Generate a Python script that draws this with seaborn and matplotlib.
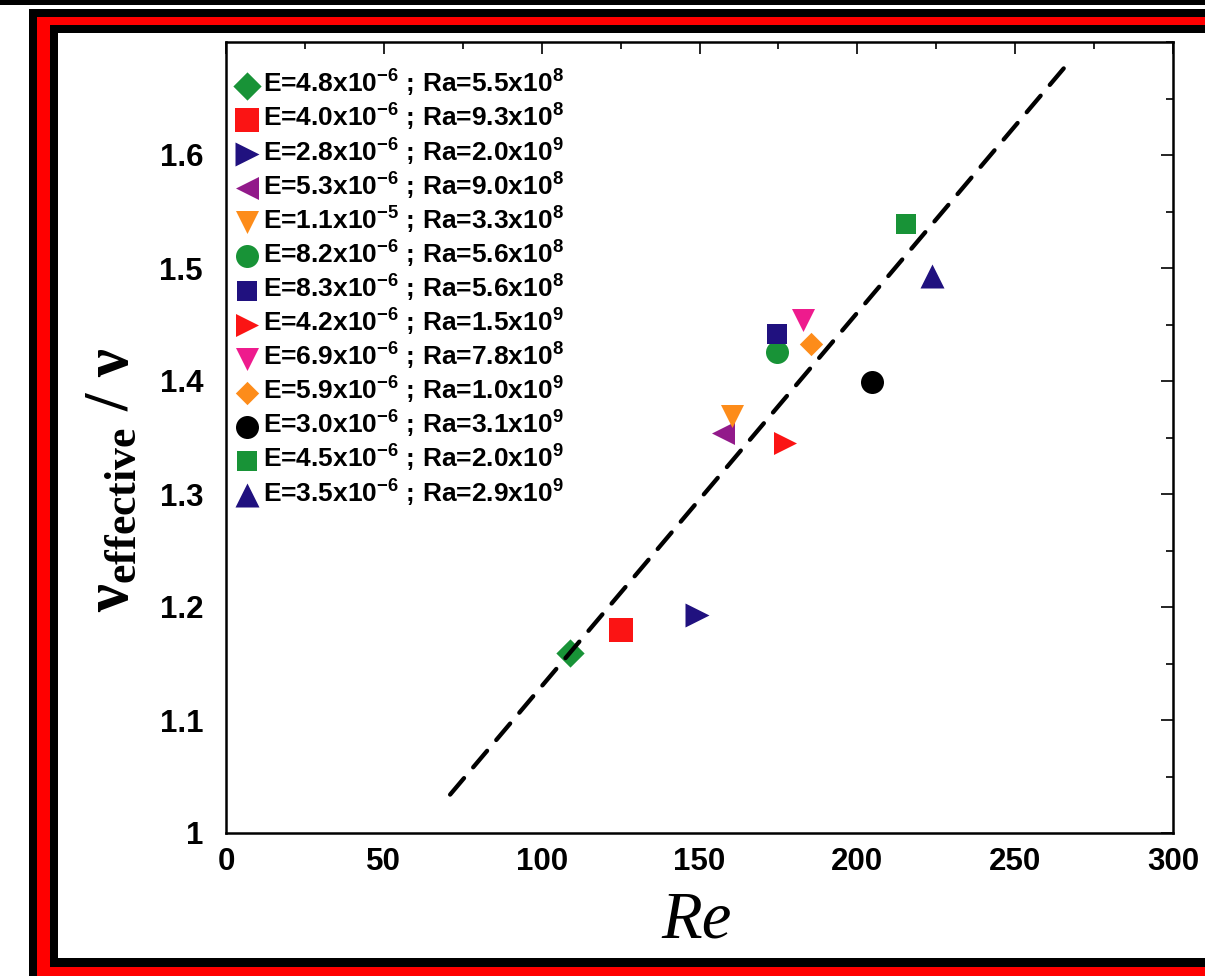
"""
Effective viscosity ratio vs Reynolds number, redrawn with seaborn.

Scatter of 13 runs (one marker per E / Ra pair) plus a dashed linear fit,
inside the black/red poster-style frame of the original figure.
"""

import matplotlib

matplotlib.use("Agg")
import matplotlib.pyplot as plt
import seaborn as sns
from matplotlib.patches import Rectangle
from matplotlib.ticker import MultipleLocator

# --- Data -----------------------------------------------------------------
E_MANT = ["4.8", "4.0", "2.8", "5.3", "1.1", "8.2", "8.3",
          "4.2", "6.9", "5.9", "3.0", "4.5", "3.5"]
E_EXP = [-6, -6, -6, -6, -5, -6, -6, -6, -6, -6, -6, -6, -6]
RA_MANT = ["5.5", "9.3", "2.0", "9.0", "3.3", "5.6", "5.6",
           "1.5", "7.8", "1.0", "3.1", "2.0", "2.9"]
RA_EXP = [8, 8, 9, 8, 8, 8, 8, 9, 8, 9, 9, 9, 9]

RE = [109.0, 125.1, 149.2, 157.4, 160.3, 174.5, 174.5,
      177.1, 182.8, 185.3, 204.6, 215.4, 223.6]
NU_RATIO = [1.159, 1.180, 1.193, 1.354, 1.369, 1.426, 1.442,
            1.345, 1.454, 1.433, 1.399, 1.539, 1.493]

# dashed linear fit (end points)
FIT_RE = [71.0, 266.7]
FIT_NU = [1.034, 1.681]

X_TICKS = [0, 50, 100, 150, 200, 250, 300]
X_TICK_LABELS = ["0", "50", "100", "150", "200", "250", "300"]
Y_TICKS = [1.0, 1.1, 1.2, 1.3, 1.4, 1.5, 1.6]
Y_TICK_LABELS = ["1", "1.1", "1.2", "1.3", "1.4", "1.5", "1.6"]

# --- Styles per series ------------------------------------------------------
GREEN, RED, NAVY = "#189337", "#fb1414", "#20117f"
PURPLE, ORANGE, PINK = "#921a8a", "#fd8c1a", "#ee1b8d"
MARKERS = ["D", "s", ">", "<", "v", "o", "s", ">", "v", "D", "o", "s", "^"]
COLORS = [GREEN, RED, NAVY, PURPLE, ORANGE, GREEN, NAVY,
          RED, PINK, ORANGE, "black", GREEN, NAVY]
SIZE_PX = [20, 24, 24, 23, 23, 23, 20, 23, 23, 16.5, 23, 20, 24]

DPI = 100
W_PX, H_PX = 1205, 976


def px_rect(fig, x0, y0, x1, y1, color):
    """Rectangle given in image pixels (origin top-left)."""
    fig.add_artist(Rectangle(
        (x0 / W_PX, 1 - y1 / H_PX), (x1 - x0) / W_PX, (y1 - y0) / H_PX,
        transform=fig.transFigure, facecolor=color, edgecolor="none",
        zorder=-10))


sns.set_style("white")
plt.rcParams.update({
    "font.family": ["Liberation Sans", "DejaVu Sans"],
    "font.weight": "bold",
    "text.color": "black",
    "axes.labelcolor": "black",
    "xtick.color": "black",
    "ytick.color": "black",
    "mathtext.fontset": "custom",
    "mathtext.rm": "Liberation Sans:bold",
    "mathtext.bf": "Liberation Serif:bold",
    "mathtext.it": "Liberation Serif:italic",
    "mathtext.default": "rm",
})

fig = plt.figure(figsize=(W_PX / DPI, H_PX / DPI), dpi=DPI)
fig.patch.set_facecolor("white")

# poster frame (cropped on the right / bottom like the original)
px_rect(fig, 0, 0, W_PX, 5, "black")
px_rect(fig, 29, 9, W_PX + 5, H_PX + 5, "black")
px_rect(fig, 37, 17, W_PX + 5, H_PX + 5, "#ff0000")
px_rect(fig, 50, 25, W_PX + 5, 967, "black")
px_rect(fig, 58, 33, W_PX + 5, 958, "white")

ax = fig.add_axes([226 / W_PX, 1 - 833 / H_PX,
                   (1173 - 226) / W_PX, (833 - 42) / H_PX])

for i in range(len(RE)):
    label = (f"E={E_MANT[i]}x$10^{{{E_EXP[i]}}}$ ; "
             f"Ra={RA_MANT[i]}x$10^{{{RA_EXP[i]}}}$")
    s = (SIZE_PX[i] * 72 / DPI) ** 2
    sns.scatterplot(x=[RE[i]], y=[NU_RATIO[i]], marker=MARKERS[i],
                    color=COLORS[i], s=s, linewidth=0, label=label,
                    ax=ax, zorder=3)

sns.lineplot(x=FIT_RE, y=FIT_NU, color="black", linewidth=3.1,
             linestyle=(0, (5, 3.3)), dash_capstyle="round",
             ax=ax, zorder=4)

ax.set_xlim(0, 300)
ax.set_ylim(1.0, 1.7)
ax.set_xticks(X_TICKS, X_TICK_LABELS)
ax.set_yticks(Y_TICKS, Y_TICK_LABELS)
ax.xaxis.set_minor_locator(MultipleLocator(25))
ax.yaxis.set_minor_locator(MultipleLocator(0.05))
ax.tick_params(which="both", direction="in", top=True, right=True,
               width=1.2, color="black", labelcolor="black")
ax.tick_params(which="major", length=8.6, labelsize=22.5)
ax.tick_params(which="minor", length=4.7)
ax.tick_params(axis="y", which="major", pad=16.5)
ax.tick_params(axis="x", which="major", pad=10)
for lab in ax.get_xticklabels() + ax.get_yticklabels():
    lab.set_fontweight("bold")
for sp in ax.spines.values():
    sp.set_linewidth(1.8)
    sp.set_color("black")

ax.set_xlabel("Re", family="Liberation Serif", style="italic",
              weight="normal", fontsize=48, color="black")
ax.xaxis.set_label_coords(0.497, -0.073)
ax.set_ylabel(r"$\mathbf{\nu_{effective}\ /\ \nu}$", fontsize=45,
              color="black")
ax.yaxis.set_label_coords(-0.089, 0.446)

leg = ax.legend(loc="upper left", bbox_to_anchor=(0.0, 0.977),
                frameon=False, fontsize=19, handlelength=1.0,
                handletextpad=0.12, borderpad=0.3, borderaxespad=0.0,
                labelspacing=0.11, markerscale=1.0)
for txt in leg.get_texts():
    txt.set_color("black")

fig.savefig("out.png", dpi=DPI)
